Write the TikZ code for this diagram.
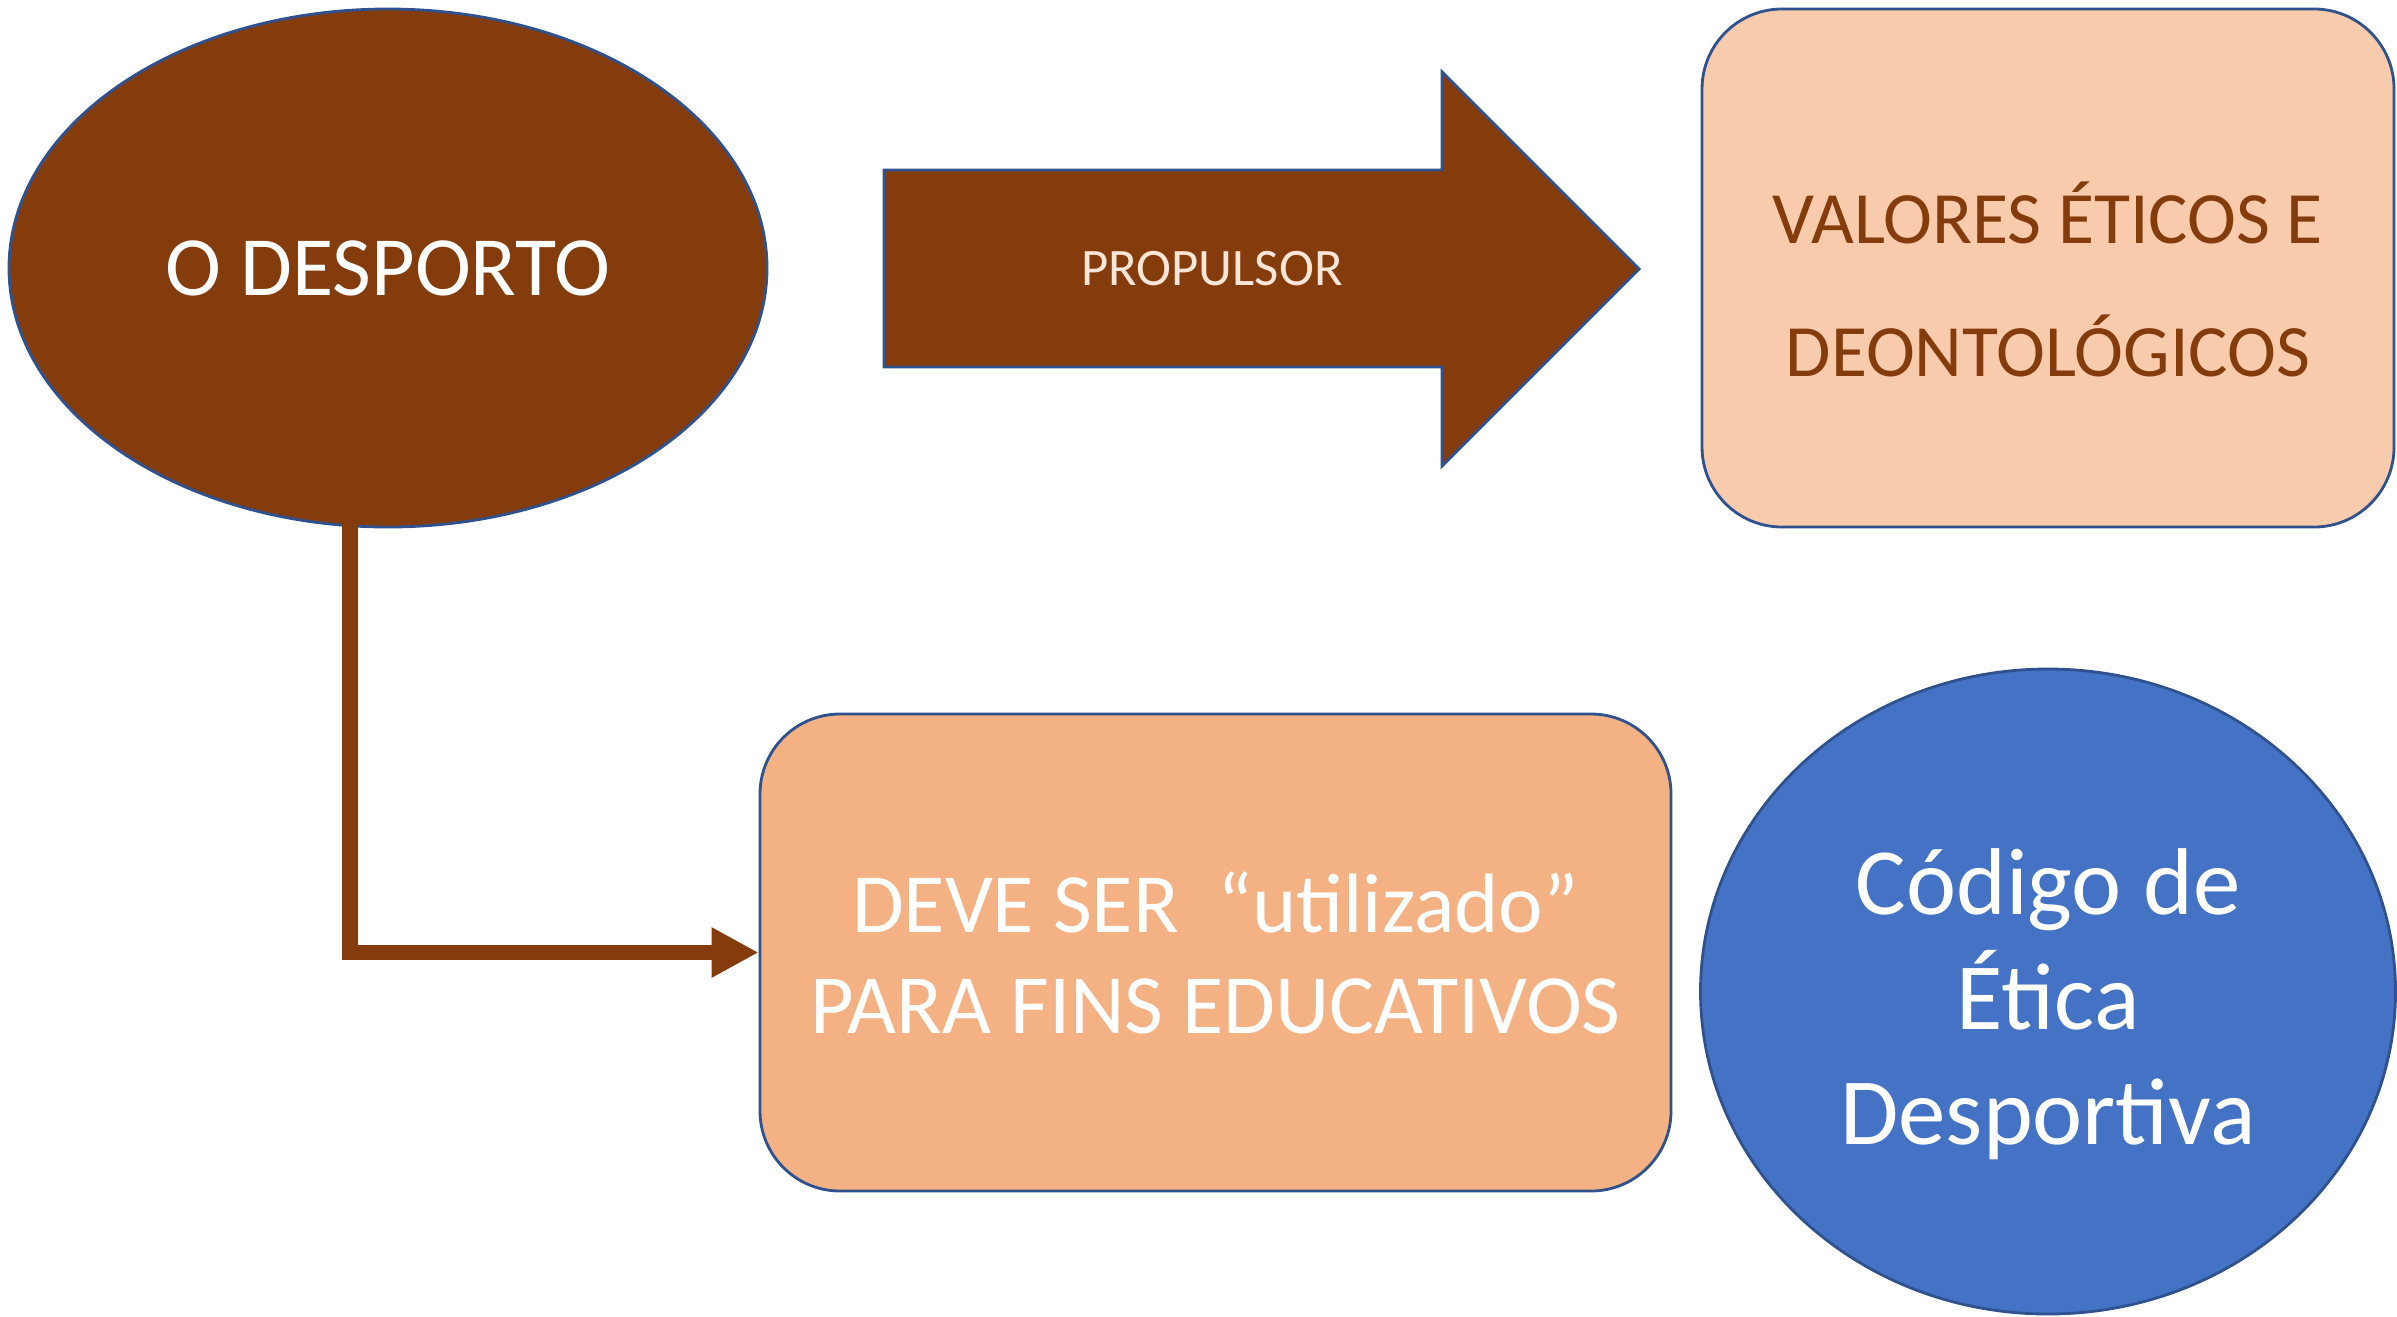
\documentclass[tikz,border=0pt]{standalone}
\usepackage{fontspec}
\setmainfont{Carlito}
\usepackage{tikz}
\usetikzlibrary{shapes.geometric,arrows.meta}

\definecolor{sportbrown}{HTML}{843C0C}
\definecolor{lightpeach}{HTML}{F8CBAD}
\definecolor{peach}{HTML}{F4B183}
\definecolor{codeblue}{HTML}{4472C4}
\definecolor{rimblue}{HTML}{2F528F}
\definecolor{paletext}{HTML}{FBE5D6}

\begin{document}
\begin{tikzpicture}[
   oval/.style={ellipse,draw=rimblue,line width=0.8pt,inner sep=0pt,align=center},
   card/.style={rectangle,rounded corners=8mm,draw=rimblue,line width=0.8pt,inner sep=0pt,align=center},
   link/.style={draw=sportbrown,line width=4.4pt,-{Triangle[length=13.4pt,width=13.4pt]}}
]
   \useasboundingbox (0,0) rectangle (23.97,-13.16);

   \draw (3.88,-2.68) node[oval,fill=sportbrown,text=white,minimum width=7.58cm,minimum height=5.18cm,font=\fontsize{24}{29}\selectfont] (desporto) {O DESPORTO};

   \draw[draw=rimblue,line width=0.8pt,fill=sportbrown] (8.84,-1.70) -- (14.42,-1.70) -- (14.42,-0.72) -- (16.39,-2.69) -- (14.42,-4.66) -- (14.42,-3.67) -- (8.84,-3.67) -- cycle;
   \draw (12.12,-2.69) node[text=paletext,font=\fontsize{15}{18}\selectfont] (propulsor) {PROPULSOR};

   \draw (20.48,-2.68) node[card,fill=lightpeach,text=sportbrown,minimum width=6.92cm,minimum height=5.18cm,font=\fontsize{21}{37.8}\selectfont] (valores) {\rule{0pt}{24pt}VALORES ÉTICOS E\\DEONTOLÓGICOS};

   \draw (12.155,-9.525) node[card,fill=peach,text=white,minimum width=9.11cm,minimum height=4.77cm,font=\fontsize{24}{28.7}\selectfont] (deve) {DEVE SER \ “utilizado”\\PARA FINS EDUCATIVOS};

   \draw (20.48,-9.915) node[oval,fill=codeblue,text=white,minimum width=6.95cm,minimum height=6.45cm,font=\fontsize{27}{32.6}\selectfont] (codigo) {\rule{0pt}{26pt}Código de\\Ética\\Desportiva};

   \draw[link] ([xshift=-3.8mm,yshift=1mm]desporto.south) |- (deve.west);

\end{tikzpicture}
\end{document}
